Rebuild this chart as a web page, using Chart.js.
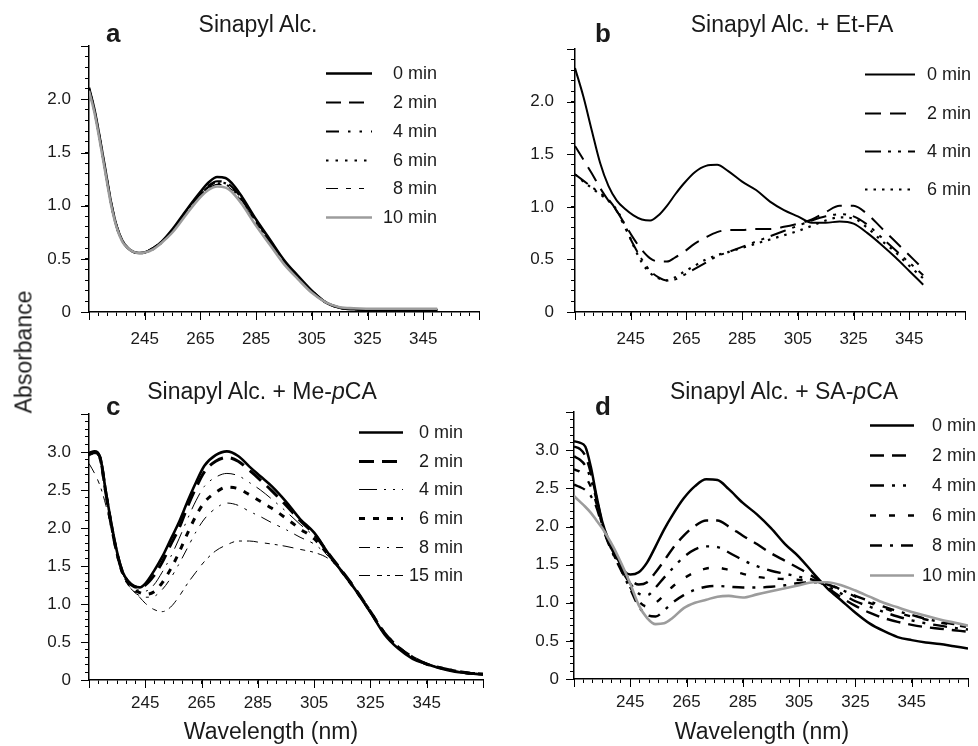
<!DOCTYPE html>
<html>
<head>
<meta charset="utf-8">
<title>Sinapyl alcohol UV spectra</title>
<script src="https://cdn.jsdelivr.net/npm/chart.js@4.4.1/dist/chart.umd.min.js"></script>
<style>
  html, body { margin: 0; padding: 0; background: #fff; overflow: hidden; }
  body { width: 978px; height: 746px; position: relative; font-family: 'Liberation Sans', Arial, sans-serif; color: #1a1a1a; }
  canvas { position: absolute; }
  .txt { position: absolute; white-space: nowrap; line-height: 1; font-size: 23px; }
  .ttl { transform: translateX(-50%); }
  .let { font-weight: bold; font-size: 26px; }
  .ylab { transform: translate(-50%, -50%) rotate(-90deg); }
</style>
</head>
<body>
<canvas id="chartA" width="473" height="330" style="left:19px;top:22px"></canvas>
<canvas id="chartB" width="473" height="330" style="left:505px;top:22px"></canvas>
<canvas id="chartC" width="473" height="330" style="left:19px;top:390px"></canvas>
<canvas id="chartD" width="473" height="328" style="left:504px;top:391px"></canvas>

<div class="txt ttl" style="left:258px;top:13px">Sinapyl Alc.</div>
<div class="txt ttl" style="left:792px;top:13px">Sinapyl Alc. + Et-FA</div>
<div class="txt ttl" style="left:262px;top:380px">Sinapyl Alc. + Me-<i>p</i>CA</div>
<div class="txt ttl" style="left:784px;top:380px">Sinapyl Alc. + SA-<i>p</i>CA</div>

<div class="txt let" style="left:106px;top:20px">a</div>
<div class="txt let" style="left:595px;top:20px">b</div>
<div class="txt let" style="left:106px;top:393px">c</div>
<div class="txt let" style="left:595px;top:393px">d</div>

<div class="txt ylab" style="left:24px;top:352px">Absorbance</div>
<div class="txt ttl" style="left:271px;top:720px">Wavelength (nm)</div>
<div class="txt ttl" style="left:762px;top:720px">Wavelength (nm)</div>

<script>
(() => {
  "use strict";

  /* ---------- data ---------- */
  const X_TICK_LABELS = [245, 265, 285, 305, 325, 345];
  const Y_LABELS_LOW = ["0", "0.5", "1.0", "1.5", "2.0"];
  const Y_LABELS_HIGH = ["0", "0.5", "1.0", "1.5", "2.0", "2.5", "3.0"];

  // a: Sinapyl Alc.
  const LABELS_A = ["0 min", "2 min", "4 min", "6 min", "8 min", "10 min"];
  const WL_A = [225, 227, 229, 231, 233, 235, 237, 239, 241, 243, 245, 248, 251, 255, 260, 265, 268, 271, 274, 277, 280, 285, 290, 295, 300, 305, 310, 315, 320, 330, 340, 350];
  const A_0  = [2.11, 1.90, 1.62, 1.32, 1.02, 0.80, 0.67, 0.60, 0.565, 0.555, 0.56, 0.60, 0.66, 0.78, 0.96, 1.13, 1.22, 1.27, 1.26, 1.19, 1.08, 0.87, 0.68, 0.49, 0.34, 0.20, 0.09, 0.04, 0.025, 0.015, 0.015, 0.015];
  const A_2  = [2.10, 1.89, 1.61, 1.31, 1.02, 0.80, 0.67, 0.60, 0.565, 0.555, 0.56, 0.60, 0.66, 0.77, 0.95, 1.11, 1.19, 1.23, 1.22, 1.16, 1.06, 0.86, 0.67, 0.48, 0.33, 0.20, 0.09, 0.04, 0.025, 0.02, 0.02, 0.02];
  const A_4  = [2.10, 1.89, 1.61, 1.31, 1.01, 0.80, 0.67, 0.60, 0.565, 0.555, 0.56, 0.60, 0.66, 0.77, 0.94, 1.10, 1.18, 1.22, 1.21, 1.15, 1.05, 0.85, 0.66, 0.47, 0.32, 0.19, 0.09, 0.04, 0.025, 0.02, 0.02, 0.02];
  const A_6  = [2.09, 1.88, 1.60, 1.30, 1.01, 0.79, 0.67, 0.60, 0.565, 0.555, 0.56, 0.59, 0.65, 0.76, 0.94, 1.10, 1.17, 1.21, 1.20, 1.14, 1.04, 0.84, 0.65, 0.47, 0.32, 0.19, 0.09, 0.04, 0.03, 0.02, 0.02, 0.02];
  const A_8  = [2.09, 1.88, 1.60, 1.30, 1.00, 0.79, 0.66, 0.60, 0.565, 0.555, 0.56, 0.59, 0.65, 0.76, 0.93, 1.09, 1.16, 1.20, 1.19, 1.13, 1.03, 0.83, 0.64, 0.46, 0.31, 0.19, 0.09, 0.04, 0.03, 0.025, 0.025, 0.025];
  const A_10 = [2.08, 1.87, 1.59, 1.29, 1.00, 0.79, 0.66, 0.60, 0.565, 0.555, 0.56, 0.59, 0.65, 0.75, 0.92, 1.08, 1.15, 1.18, 1.17, 1.11, 1.01, 0.81, 0.63, 0.45, 0.31, 0.18, 0.09, 0.045, 0.035, 0.03, 0.03, 0.03];

  // b: Sinapyl Alc. + Et-FA
  const LABELS_B = ["0 min", "2 min", "4 min", "6 min"];
  const WL_B = [225, 228, 231, 234, 237, 240, 243, 246, 249, 252, 255, 258, 261, 264, 268, 272, 276, 280, 285, 290, 295, 300, 305, 310, 315, 320, 325, 330, 335, 340, 345, 350];
  const B_0 = [2.32, 2.05, 1.73, 1.42, 1.20, 1.06, 0.98, 0.92, 0.88, 0.87, 0.92, 1.01, 1.12, 1.22, 1.33, 1.39, 1.40, 1.34, 1.24, 1.16, 1.05, 0.97, 0.91, 0.85, 0.85, 0.86, 0.84, 0.75, 0.64, 0.52, 0.39, 0.26];
  const B_2 = [1.58, 1.45, 1.32, 1.18, 1.06, 0.96, 0.83, 0.70, 0.59, 0.51, 0.48, 0.48, 0.52, 0.57, 0.65, 0.71, 0.76, 0.78, 0.78, 0.79, 0.79, 0.81, 0.84, 0.88, 0.95, 1.01, 1.01, 0.93, 0.80, 0.67, 0.54, 0.41];
  const B_4 = [1.31, 1.25, 1.19, 1.13, 1.07, 0.96, 0.80, 0.64, 0.50, 0.39, 0.33, 0.30, 0.31, 0.35, 0.41, 0.47, 0.53, 0.57, 0.62, 0.67, 0.72, 0.77, 0.82, 0.87, 0.91, 0.93, 0.91, 0.83, 0.71, 0.59, 0.47, 0.35];
  const B_6 = [1.31, 1.24, 1.18, 1.12, 1.06, 0.97, 0.82, 0.63, 0.47, 0.37, 0.32, 0.30, 0.33, 0.38, 0.44, 0.50, 0.54, 0.57, 0.61, 0.65, 0.69, 0.73, 0.77, 0.82, 0.87, 0.90, 0.89, 0.80, 0.68, 0.57, 0.44, 0.32];

  // c: Sinapyl Alc. + Me-pCA
  const LABELS_C = ["0 min", "2 min", "4 min", "6 min", "8 min", "15 min"];
  const WL_C = [225, 227, 229, 231, 233, 235, 237, 239, 241, 243, 245, 248, 251, 254, 257, 260, 263, 266, 270, 274, 278, 282, 286, 290, 295, 300, 305, 310, 315, 320, 325, 330, 335, 340, 345, 350, 355, 360, 365];
  const C_0  = [2.99, 3.01, 2.93, 2.48, 2.05, 1.68, 1.42, 1.30, 1.24, 1.22, 1.27, 1.43, 1.62, 1.85, 2.08, 2.35, 2.60, 2.82, 2.96, 3.01, 2.95, 2.81, 2.68, 2.55, 2.35, 2.12, 1.94, 1.67, 1.42, 1.17, 0.89, 0.60, 0.41, 0.28, 0.21, 0.15, 0.11, 0.09, 0.07];
  const C_2  = [2.97, 3.00, 2.92, 2.46, 2.02, 1.66, 1.41, 1.29, 1.23, 1.22, 1.25, 1.37, 1.55, 1.78, 2.00, 2.28, 2.53, 2.74, 2.88, 2.93, 2.88, 2.76, 2.63, 2.49, 2.30, 2.10, 1.92, 1.67, 1.43, 1.18, 0.90, 0.62, 0.43, 0.30, 0.21, 0.16, 0.12, 0.09, 0.08];
  const C_4  = [2.96, 2.99, 2.90, 2.45, 2.02, 1.65, 1.40, 1.28, 1.21, 1.18, 1.17, 1.25, 1.42, 1.62, 1.86, 2.12, 2.36, 2.55, 2.67, 2.72, 2.69, 2.60, 2.50, 2.38, 2.22, 2.05, 1.89, 1.66, 1.42, 1.17, 0.89, 0.61, 0.43, 0.29, 0.21, 0.15, 0.11, 0.09, 0.07];
  const C_6  = [2.98, 3.00, 2.91, 2.46, 2.03, 1.66, 1.40, 1.27, 1.19, 1.15, 1.13, 1.16, 1.28, 1.46, 1.68, 1.93, 2.16, 2.34, 2.47, 2.54, 2.52, 2.44, 2.35, 2.26, 2.13, 1.99, 1.86, 1.65, 1.42, 1.17, 0.90, 0.62, 0.43, 0.30, 0.21, 0.16, 0.12, 0.09, 0.08];
  const C_8  = [2.95, 2.98, 2.88, 2.44, 2.00, 1.63, 1.38, 1.25, 1.16, 1.11, 1.09, 1.10, 1.19, 1.34, 1.53, 1.74, 1.95, 2.12, 2.26, 2.33, 2.30, 2.22, 2.15, 2.07, 1.98, 1.88, 1.79, 1.63, 1.41, 1.17, 0.89, 0.61, 0.42, 0.29, 0.21, 0.15, 0.11, 0.09, 0.07];
  const C_15 = [2.85, 2.72, 2.55, 2.30, 1.98, 1.68, 1.42, 1.25, 1.17, 1.09, 1.01, 0.93, 0.90, 0.96, 1.10, 1.27, 1.42, 1.56, 1.70, 1.78, 1.83, 1.83, 1.81, 1.79, 1.76, 1.72, 1.68, 1.60, 1.42, 1.18, 0.90, 0.62, 0.43, 0.30, 0.22, 0.16, 0.12, 0.10, 0.08];

  // d: Sinapyl Alc. + SA-pCA
  const LABELS_D = ["0 min", "2 min", "4 min", "6 min", "8 min", "10 min"];
  const WL_D = [225, 227, 229, 231, 233, 235, 237, 239, 241, 243, 245, 248, 251, 254, 257, 260, 264, 268, 272, 276, 280, 285, 290, 295, 300, 305, 310, 315, 320, 325, 330, 335, 340, 345, 350, 355, 360, 365];
  const D_0  = [3.12, 3.10, 3.05, 2.78, 2.40, 2.07, 1.85, 1.69, 1.54, 1.41, 1.37, 1.40, 1.53, 1.74, 1.96, 2.15, 2.37, 2.53, 2.62, 2.61, 2.49, 2.31, 2.16, 1.98, 1.77, 1.60, 1.39, 1.19, 1.03, 0.87, 0.73, 0.63, 0.55, 0.51, 0.48, 0.46, 0.43, 0.40];
  const D_2  = [3.05, 3.02, 2.93, 2.70, 2.38, 2.05, 1.82, 1.66, 1.52, 1.38, 1.30, 1.24, 1.27, 1.40, 1.55, 1.71, 1.88, 2.01, 2.08, 2.08, 2.00, 1.88, 1.77, 1.65, 1.55, 1.45, 1.34, 1.20, 1.07, 0.96, 0.87, 0.80, 0.75, 0.71, 0.68, 0.66, 0.64, 0.62];
  const D_4  = [2.92, 2.88, 2.80, 2.62, 2.35, 2.04, 1.82, 1.65, 1.50, 1.36, 1.25, 1.12, 1.10, 1.20, 1.33, 1.45, 1.60, 1.70, 1.74, 1.73, 1.66, 1.56, 1.48, 1.42, 1.38, 1.34, 1.30, 1.22, 1.12, 1.02, 0.95, 0.88, 0.82, 0.77, 0.73, 0.70, 0.67, 0.65];
  const D_6  = [2.75, 2.72, 2.65, 2.52, 2.30, 2.03, 1.81, 1.64, 1.49, 1.34, 1.20, 1.02, 0.95, 1.00, 1.10, 1.21, 1.32, 1.40, 1.45, 1.46, 1.43, 1.38, 1.34, 1.32, 1.31, 1.30, 1.29, 1.25, 1.17, 1.08, 1.00, 0.93, 0.87, 0.82, 0.78, 0.74, 0.71, 0.68];
  const D_8  = [2.55, 2.52, 2.48, 2.40, 2.25, 2.01, 1.80, 1.63, 1.48, 1.33, 1.18, 0.95, 0.84, 0.82, 0.90, 1.00, 1.10, 1.17, 1.21, 1.22, 1.21, 1.20, 1.20, 1.21, 1.23, 1.26, 1.27, 1.24, 1.17, 1.09, 1.02, 0.95, 0.89, 0.84, 0.79, 0.75, 0.72, 0.69];
  const D_10 = [2.40, 2.33, 2.26, 2.18, 2.08, 1.98, 1.86, 1.73, 1.58, 1.42, 1.25, 0.97, 0.80, 0.72, 0.73, 0.80, 0.93, 1.00, 1.04, 1.08, 1.09, 1.07, 1.11, 1.15, 1.19, 1.23, 1.27, 1.27, 1.23, 1.16, 1.08, 1.00, 0.94, 0.88, 0.83, 0.78, 0.74, 0.70];

  /* ---------- line styles (colour, width, dash) ---------- */
  const GRAY = "#9c9c9c";
  const STYLE_A = [
    { c: "#000", w: 2.5, d: [] },
    { c: "#000", w: 2.2, d: [15, 8] },
    { c: "#000", w: 2.2, d: [13, 9, 2.5, 9, 2.5, 9] },
    { c: "#000", w: 2.2, d: [2.5, 7] },
    { c: "#000", w: 1.2, d: [12, 8, 5, 8, 5, 8] },
    { c: GRAY, w: 2.6, d: [], top: true },
  ];
  const STYLE_B = [
    { c: "#000", w: 2, d: [] },
    { c: "#000", w: 2, d: [16, 9] },
    { c: "#000", w: 2, d: [16, 7, 3, 7, 3, 7] },
    { c: "#000", w: 2.2, d: [2.5, 6] },
  ];
  const STYLE_C = [
    { c: "#000", w: 2.6, d: [] },
    { c: "#000", w: 3, d: [15, 8] },
    { c: "#000", w: 1, d: [18, 7, 2, 7, 2, 7] },
    { c: "#000", w: 3, d: [6, 8] },
    { c: "#000", w: 1, d: [11, 7, 3, 7, 2, 7] },
    { c: "#000", w: 1, d: [11, 7, 5, 5, 3, 5] },
  ];
  const STYLE_D = [
    { c: "#000", w: 2.5, d: [] },
    { c: "#000", w: 2.4, d: [14, 8] },
    { c: "#000", w: 2.4, d: [14, 8, 3, 8, 3, 8] },
    { c: "#000", w: 2.4, d: [6, 13] },
    { c: "#000", w: 2.4, d: [12, 8, 3, 8] },
    { c: GRAY, w: 2.6, d: [], top: true },
  ];

  const FONT = "'Liberation Sans', Arial, sans-serif";
  Chart.defaults.font.family = FONT;
  Chart.defaults.color = "#1a1a1a";

  const pts = (xs, ys) => xs.map((x, i) => ({ x, y: ys[i] }));

  function datasets(labels, xs, series, styles) {
    return series.map((ys, i) => ({
      label: labels[i],
      data: pts(xs, ys),
      borderColor: styles[i].c,
      borderWidth: styles[i].w,
      borderDash: styles[i].d,
      order: styles[i].top ? -1 : 0,
      pointRadius: 0,
      fill: false,
      cubicInterpolationMode: "monotone",
    }));
  }

  // Legend: line sample + right aligned label, rows inside the plot
  const lineLegend = {
    id: "lineLegend",
    afterDatasetsDraw(chart, args, o) {
      const { ctx, chartArea: ca } = chart;
      ctx.save();
      chart.data.datasets.forEach((ds, i) => {
        const y = Math.round(ca.top + o.y + i * o.step) + 0.5;
        ctx.beginPath();
        ctx.setLineDash(ds.borderDash || []);
        ctx.lineWidth = ds.borderWidth;
        ctx.strokeStyle = ds.borderColor;
        ctx.moveTo(ca.left + o.x, y);
        ctx.lineTo(ca.left + o.x + o.len, y);
        ctx.stroke();
        ctx.setLineDash([]);
        ctx.fillStyle = "#1a1a1a";
        ctx.font = `18px ${FONT}`;
        ctx.textAlign = "right";
        ctx.textBaseline = "middle";
        ctx.fillText(ds.label, ca.left + o.right, y + 1);
      });
      ctx.restore();
    },
  };

  // Major ticks are drawn longer than the minor ones
  const longTicks = {
    id: "longTicks",
    afterDraw(chart) {
      const { ctx, scales: { x, y } } = chart;
      ctx.save();
      ctx.strokeStyle = "#000";
      ctx.lineWidth = 1;
      ctx.beginPath();
      x.ticks.forEach((t, i) => {
        if (i % 6) return;
        const px = Math.round(x.getPixelForValue(t.value)) + 0.5;
        ctx.moveTo(px, x.top);
        ctx.lineTo(px, x.top + 8);
      });
      y.ticks.forEach((t) => {
        if (Math.abs(t.value * 2 - Math.round(t.value * 2)) > 1e-6) return;
        const py = Math.round(y.getPixelForValue(t.value)) + 0.5;
        ctx.moveTo(y.right - 8, py);
        ctx.lineTo(y.right, py);
      });
      ctx.stroke();
      ctx.restore();
    },
  };

  function makeChart(id, sets, yMax, yLabels, pad, legend) {
    const axisLine = { display: true, color: "#000", width: 1.5 };
    const tickGrid = { drawOnChartArea: false, drawTicks: true, tickLength: 4, color: "#000", tickWidth: 1 };
    new Chart(document.getElementById(id).getContext("2d"), {
      type: "line",
      data: { datasets: sets },
      options: {
        responsive: false,
        animation: false,
        events: [],
        layout: { padding: { top: 10, right: 4, left: 0, bottom: 0 }, autoPadding: false },
        plugins: { legend: { display: false }, tooltip: { enabled: false }, lineLegend: legend },
        scales: {
          x: {
            type: "linear",
            min: 225,
            max: 365,
            border: axisLine,
            grid: tickGrid,
            afterBuildTicks: (s) => { s.ticks = Array.from({ length: 43 }, (_, i) => ({ value: 225 + (i * 20) / 6 })); },
            afterFit: (s) => { s.height = 40; },
            ticks: {
              autoSkip: false,
              maxRotation: 0,
              padding: pad.x,
              font: { size: 17 },
              callback: (v) => {
                const hit = X_TICK_LABELS.find((l) => Math.abs(l - v) < 1e-6);
                return hit === undefined ? "" : String(hit);
              },
            },
          },
          y: {
            min: 0,
            max: yMax,
            border: axisLine,
            grid: tickGrid,
            afterBuildTicks: (s) => { s.ticks = Array.from({ length: Math.round(yMax * 10) + 1 }, (_, i) => ({ value: i / 10 })); },
            afterFit: (s) => { s.width = 70; },
            ticks: {
              autoSkip: false,
              padding: pad.y,
              font: { size: 17 },
              callback: (v) => {
                const k = Math.round(v * 2);
                return Math.abs(v * 2 - k) < 1e-6 && k < yLabels.length ? yLabels[k] : "";
              },
            },
          },
        },
      },
      plugins: [lineLegend, longTicks],
    });
  }

  makeChart("chartA",
    datasets(LABELS_A, WL_A, [A_0, A_2, A_4, A_6, A_8, A_10], STYLE_A),
    2.5, Y_LABELS_LOW, { x: 13, y: 14 },
    { x: 237, len: 46, right: 348, y: 27, step: 28.8 });

  makeChart("chartB",
    datasets(LABELS_B, WL_B, [B_0, B_2, B_4, B_6], STYLE_B),
    2.5, Y_LABELS_LOW, { x: 13, y: 17 },
    { x: 290, len: 50, right: 396, y: 25, step: 38.3 });

  makeChart("chartC",
    datasets(LABELS_C, WL_C, [C_0, C_2, C_4, C_6, C_8, C_15], STYLE_C),
    3.5, Y_LABELS_HIGH, { x: 9, y: 14 },
    { x: 270, len: 44, right: 374, y: 18, step: 28.6 });

  makeChart("chartD",
    datasets(LABELS_D, WL_D, [D_0, D_2, D_4, D_6, D_8, D_10], STYLE_D),
    3.5, Y_LABELS_HIGH, { x: 9, y: 11 },
    { x: 296, len: 44, right: 402, y: 13, step: 29.9 });
})();
</script>
</body>
</html>
